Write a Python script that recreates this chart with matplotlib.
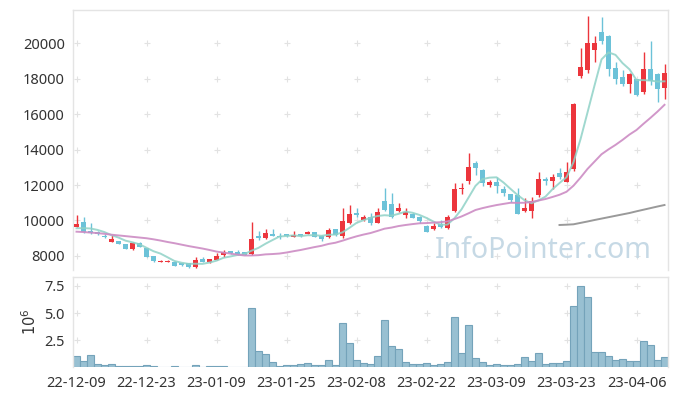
import numpy as np
import pandas as pd
import matplotlib
matplotlib.use("Agg")
import matplotlib.pyplot as plt

plt.rcParams['font.family'] = ['Noto Sans', 'DejaVu Sans']

# daily candles, 22-12-09 .. 23-04-12 (trading days)
dates = ['22-12-09', '22-12-23', '23-01-09', '23-01-25', '23-02-08',
         '23-02-22', '23-03-09', '23-03-23', '23-04-06']

opens = [9650, 9900, 9425, 9370, 9100, 8810, 8845, 8676, 8410, 8715,
         8430, 8000, 7660, 7660, 7680, 7590, 7590, 7400, 7830, 7645,
         7775, 8040, 8280, 8225, 8225, 8095, 9130, 9015, 9240, 9130,
         9240, 9090, 9240, 9240, 9330, 9145, 9050, 9520, 9130, 9840,
         10440, 10030, 10180, 9875, 11100, 10930, 10520, 10310, 10370, 10215,
         9690, 9500, 9800, 9560, 10550, 11775, 12225, 13256, 12845, 12000,
         12186, 11775, 11480, 11437, 10535, 10550, 11437, 12355, 12240, 12695,
         12186, 12885, 18140, 18480, 19605, 20640, 20420, 18575, 18085, 17710,
         17970, 17255, 18535, 18255, 17480]

closes = [9800, 9370, 9280, 9220, 9060, 8940, 8690, 8410, 8750, 8507,
          7960, 7720, 7740, 7720, 7450, 7475, 7400, 7775, 7680, 7830,
          8000, 8210, 8150, 8095, 8075, 8960, 9015, 9310, 9130, 9070,
          9110, 9180, 9110, 9370, 9090, 8940, 9465, 9180, 9990, 10366,
          10330, 10210, 9875, 10480, 10590, 10210, 10720, 10500, 10160, 9970,
          9370, 9690, 9617, 10200, 11775, 11850, 12998, 12940, 12100, 12186,
          11945, 11530, 11155, 10383, 10700, 11100, 12338, 12210, 12470, 12435,
          12750, 16560, 18665, 20020, 20020, 20115, 18535, 17970, 17710, 18255,
          17070, 18535, 17860, 17410, 18330]

highs = [10310, 10215, 9840, 9400, 9220, 9180, 8870, 8700, 8780, 8800,
         8460, 8020, 7775, 7790, 7700, 7600, 7600, 7960, 7925, 7850,
         8150, 8340, 8300, 8340, 8240, 9900, 9410, 9520, 9520, 9280,
         9260, 9410, 9260, 9400, 9350, 9160, 9560, 9540, 10690, 10870,
         10690, 10310, 10400, 10720, 11815, 11530, 10970, 10690, 10400, 10250,
         9720, 9840, 10030, 10310, 12130, 12100, 13790, 13370, 12900, 12280,
         12470, 11960, 11500, 11815, 11285, 11340, 12750, 12470, 12600, 12940,
         13310, 16600, 19700, 21540, 20400, 21485, 20450, 18950, 18480, 18300,
         18000, 19510, 20130, 18300, 18800]

lows = [9620, 9310, 9250, 9200, 9030, 8800, 8660, 8380, 8340, 8480,
        7930, 7680, 7640, 7640, 7420, 7450, 7350, 7300, 7650, 7620,
        7750, 7960, 8120, 8060, 8050, 8080, 8900, 8940, 9100, 8975,
        9080, 9060, 9080, 9220, 9060, 8860, 8990, 9150, 8995, 9800,
        10210, 9970, 9750, 9850, 10520, 10150, 10480, 10120, 10120, 9880,
        9340, 9465, 9590, 9530, 10500, 11500, 12056, 12560, 11960, 11905,
        11565, 11400, 11025, 10383, 10500, 10125, 11340, 12000, 11775, 12350,
        12150, 12790, 18045, 18290, 18950, 19930, 18160, 17670, 17580, 17200,
        17015, 17125, 17635, 16695, 16845]

# volume in millions
volumes = [1.02, 0.59, 1.11, 0.31, 0.22, 0.28, 0.09, 0.09, 0.09, 0.09,
           0.19, 0.09, 0.03, 0.03, 0.09, 0.03, 0.03, 0.19, 0.03, 0.09,
           0.09, 0.09, 0.03, 0.03, 0.03, 5.47, 1.51, 1.20, 0.46, 0.09,
           0.19, 0.19, 0.28, 0.37, 0.19, 0.19, 0.65, 0.19, 4.08, 2.22,
           0.65, 0.37, 0.28, 1.02, 4.36, 1.95, 1.67, 0.46, 0.28, 0.28,
           0.37, 0.19, 0.28, 0.46, 4.64, 1.30, 3.89, 0.83, 0.46, 0.19,
           0.28, 0.19, 0.19, 0.28, 0.93, 0.56, 1.30, 0.28, 0.37, 0.37,
           0.56, 5.69, 7.51, 6.49, 1.39, 1.39, 1.02, 0.65, 0.74, 0.56,
           0.56, 2.41, 2.04, 0.65, 0.93]

# moving-average values before the window
ma5_head = [9560, 9570, 9550, 9470]
ma20_head = [9370, 9350, 9320, 9290, 9250, 9200, 9160, 9120, 9080, 9040,
             9000, 8940, 8870, 8790, 8720, 8640, 8560, 8490, 8420]
ma120_start = 69
ma120 = [9747, 9764, 9786, 9865, 9944, 10028, 10107, 10186, 10265, 10344,
         10422, 10518, 10608, 10698, 10788, 10873]

n = len(closes)
x = np.arange(n)
o = np.array(opens)
c = np.array(closes)
up = c >= o

s = pd.Series(closes, dtype=float)
ma5 = s.rolling(5).mean().values
ma5[:len(ma5_head)] = ma5_head
ma20 = s.rolling(20).mean().values
ma20[:len(ma20_head)] = ma20_head

RED = '#ec353c'
BLUE = '#6cc2d8'

fig = plt.figure(figsize=(6.77, 3.96), dpi=100)
ax = fig.add_axes([73/677, 1-270/396, 595/677, 260/396])
axv = fig.add_axes([73/677, 1-367.3/396, 595/677, 90.3/396])

# candles
colors = np.where(up, RED, BLUE)
ax.vlines(x, lows, highs, colors=colors, linewidth=1.0, zorder=2)
body_lo = np.minimum(o, c)
body_h = np.maximum(np.abs(c - o), 30)
ax.bar(x, body_h, bottom=body_lo, width=0.7, color=colors, linewidth=0, zorder=3)

# moving averages
ax.plot(x, ma5, color='#8fd2c7', lw=1.4, alpha=0.85, zorder=4)
ax.plot(x, ma20, color='#cc8cc4', lw=1.4, alpha=0.9, zorder=4)
ax.plot(x[ma120_start:], ma120, color='#9a9a9a', lw=1.4, zorder=4)

ax.text(0.79, 0.075, 'InfoPointer.com', transform=ax.transAxes,
        fontsize=20.5, color='#c6d9e5', ha='center', va='center', zorder=1)

tick_pos = np.arange(0, n, 10)[:len(dates)]
yt = np.arange(8000, 20001, 2000)
ax.set_xlim(-0.5, n - 0.5)
ax.set_ylim(7211, 21860)
ax.set_yticks(yt)
ax.set_yticklabels([str(v) for v in yt])
ax.set_xticks(tick_pos)
ax.set_xticklabels([])
gx, gy = np.meshgrid(tick_pos, yt)
ax.plot(gx.ravel(), gy.ravel(), ls='none', marker='+', ms=4.5, mew=0.8,
        color='#e2e2e2', zorder=0)

# volume
axv.bar(x, volumes, width=1.0, color='#98c0d2', edgecolor='#74a3ba',
        linewidth=0.8, zorder=2)
axv.set_xlim(-0.5, n - 0.5)
axv.set_ylim(0, 8.33)
vt = [2.5, 5.0, 7.5]
axv.set_yticks(vt)
axv.set_yticklabels(['2.5', '5.0', '7.5'])
axv.set_xticks(tick_pos)
axv.set_xticklabels(dates)
axv.set_ylabel(r'$10^6$', fontsize=10.5, color='#333333', labelpad=3)
gx, gy = np.meshgrid(tick_pos, vt)
axv.plot(gx.ravel(), gy.ravel(), ls='none', marker='+', ms=4.5, mew=0.8,
         color='#e2e2e2', zorder=0)

for a in (ax, axv):
    a.tick_params(length=0, labelsize=10.5, labelcolor='#333333', pad=6)
    for sp in a.spines.values():
        sp.set_color('#e4e4e4')
        sp.set_linewidth(1.0)
axv.spines['bottom'].set_visible(False)
ax.spines['bottom'].set_visible(False)

fig.savefig('out.png', dpi=100)
